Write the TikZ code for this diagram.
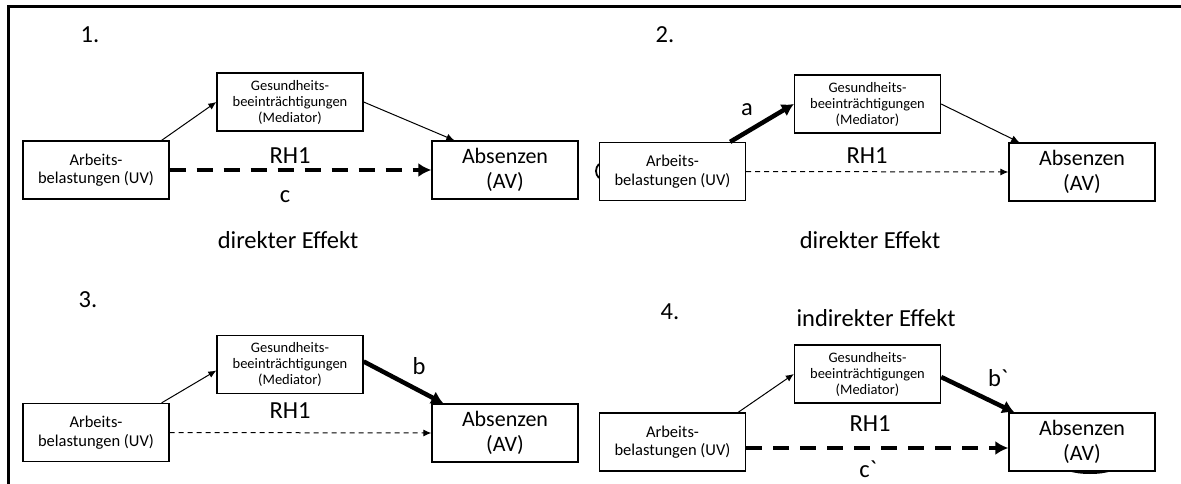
\documentclass[tikz,border=0pt]{standalone}
\usepackage{fontspec}
\setmainfont{Carlito}
% a family without TeX ligatures, so that ` stays a plain grave accent
\newfontfamily\gravefont{Carlito}
\usetikzlibrary{arrows.meta}
\newcommand\fsArb{\fontsize{16.5}{18.5}\selectfont}
\newcommand\fsMed{\fontsize{14.5}{16}\selectfont}
\newcommand\fsAbs{\fontsize{22}{25}\selectfont}
\newcommand\fsLbl{\fontsize{24.5}{26}\selectfont}
\newcommand\grv{{\gravefont`}}
\begin{document}
\begin{tikzpicture}[x=1pt,y=-1pt,
  box/.style={draw, line width=1.3pt, minimum width=146pt, minimum height=58pt, align=center, inner sep=1pt},
  uv/.style={box, font=\fsArb},
  med/.style={box, font=\fsMed},
  av/.style={box, font=\fsAbs},
  lbl/.style={font=\fsLbl, inner sep=0pt},
  thinarrow/.style={line width=1pt, -{Latex[length=8pt,width=7pt]}},
  boldarrow/.style={line width=4.5pt, -{Latex[length=12pt,width=14pt]}},
  bolddash/.style={line width=4.5pt, dash pattern=on 16pt off 11pt, -{Latex[length=13pt,width=14pt]}},
  thindash/.style={line width=1pt, dash pattern=on 5pt off 4pt, -{Latex[length=8pt,width=7pt]}}
]
% canvas
\useasboundingbox (0,0) rectangle (1181,484);
\fill[white] (0,0) rectangle (1181,484);
\draw[line width=3pt] (8,484) -- (8,7) -- (1181,7);

% ---------- 1. direct effect c ----------
\node[lbl] (n1) at (90,35) {1.};
\node[uv]  (arb1) at (96,170)  {Arbeits-\\belastungen (UV)};
\node[med] (med1) at (290,102) {Gesundheits-\\beeinträchtigungen\\(Mediator)};
\node[av]  (abs1) at (505,170) {Absenzen\\(AV)};
\node[lbl] (rh1) at (290,156) {RH1};
\node[lbl] (c1) at (285,197) {c};
\node[lbl] (d1) at (288,240) {direkter Effekt};
\draw[thinarrow] ([xshift=-8pt]arb1.north east) -- (med1.west);
\draw[thinarrow] (med1.east) -- ([xshift=23pt]abs1.north west);
\draw[bolddash] (arb1.east) -- (abs1.west);

% ---------- 2. path a ----------
\node[lbl] (n2) at (665,35) {2.};
\node[uv]  (arb2) at (672.5,171.5) {Arbeits-\\belastungen (UV)};
\node[med] (med2) at (867.5,104)   {Gesundheits-\\beeinträchtigungen\\(Mediator)};
\node[av]  (abs2) at (1082,172)    {Absenzen\\(AV)};
\node[lbl] (rh2) at (867,156) {RH1};
\node[lbl] (a2) at (747,110) {a};
\node[lbl] (d2) at (870,240) {direkter Effekt};
\draw[boldarrow] ([xshift=-16pt]arb2.north east) -- (med2.west);
\draw[thinarrow] (med2.east) -- ([xshift=11pt]abs2.north west);
\draw[thindash] (arb2.east) -- (abs2.west);
\draw[line width=1.8pt] (599,164) .. controls (595,168) and (595,174) .. (599,178);

% ---------- 3. path b ----------
\node[lbl] (n3) at (88,300) {3.};
\node[uv]  (arb3) at (96,432.5)  {Arbeits-\\belastungen (UV)};
\node[med] (med3) at (290,364.5) {Gesundheits-\\beeinträchtigungen\\(Mediator)};
\node[av]  (abs3) at (505,433)   {Absenzen\\(AV)};
\node[lbl] (rh3) at (290,411) {RH1};
\node[lbl] (b3) at (419,366) {b};
\draw[thinarrow] ([xshift=-8pt]arb3.north east) -- ([yshift=-6pt]med3.west);
\draw[boldarrow] ([yshift=3pt]med3.east) -- ([xshift=12pt]abs3.north west);
\draw[thindash] (arb3.east) -- (abs3.west);

% ---------- 4. indirect effect ----------
\node[lbl] (n4) at (670,312) {4.};
\node[lbl] (ie4) at (876,318) {indirekter Effekt};
\node[uv]  (arb4) at (672.5,442) {Arbeits-\\belastungen (UV)};
\node[med] (med4) at (867.5,374) {Gesundheits-\\beeinträchtigungen\\(Mediator)};
\node[av]  (abs4) at (1082,442)  {Absenzen\\(AV)};
\node[lbl] (rh4) at (870,424) {RH1};
\node[lbl] (b4) at (998,378) {b\grv};
\node[lbl] (c4) at (868,469) {c\grv};
\draw[thinarrow] ([xshift=-8pt]arb4.north east) -- (med4.west);
\draw[boldarrow] ([yshift=-3pt]med4.east) -- ([xshift=6pt]abs4.north west);
\draw[bolddash] ([yshift=-6pt]arb4.east) -- ([yshift=-6pt]abs4.west);
\fill (1068,471) .. controls (1080,475) and (1100,475) .. (1112,471) -- cycle;
\end{tikzpicture}
\end{document}
